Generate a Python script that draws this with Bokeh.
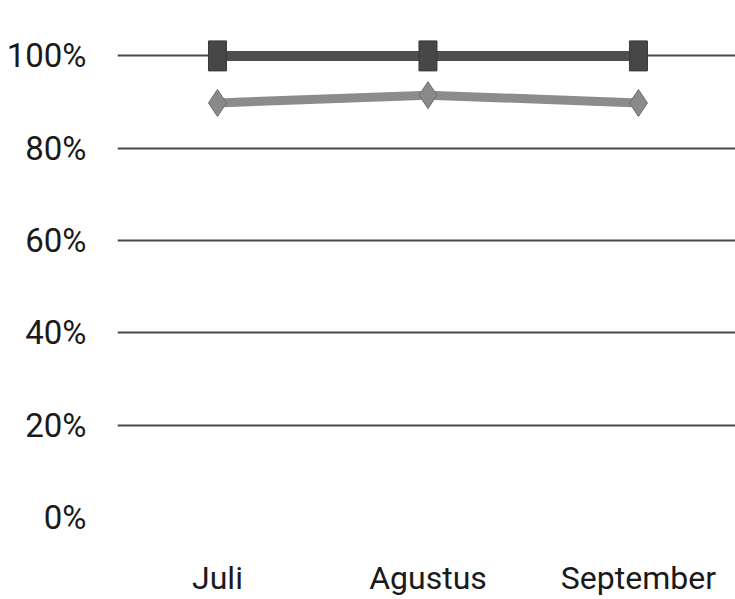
from bokeh.plotting import figure
from bokeh.models import FixedTicker, Range1d
from bokeh.embed import file_html
from bokeh.resources import INLINE

# Monthly percentages for the two series
months = ["Juli", "Agustus", "September"]
series_square = [100, 100, 100]
series_diamond = [89.8, 91.5, 89.8]
y_ticks = [0, 20, 40, 60, 80, 100]
y_tick_labels = ["0%", "20%", "40%", "60%", "80%", "100%"]

x_pos = list(range(len(months)))

FONT = "Roboto"

p = figure(
    width=735, height=599,
    x_range=Range1d(-0.475, 2.461),
    y_range=Range1d(0, 112),
    output_backend="svg",
    toolbar_location=None,
    min_border_left=117, min_border_right=0,
    min_border_top=0, min_border_bottom=77,
)
p.outline_line_color = None
p.background_fill_color = "white"
p.border_fill_color = "white"

# horizontal gridlines at 20..100 only
p.xgrid.visible = False
p.ygrid.ticker = FixedTicker(ticks=y_ticks[1:])
p.ygrid.grid_line_color = "#484848"
p.ygrid.grid_line_width = 2

# y axis: percentage labels
p.yaxis.ticker = FixedTicker(ticks=y_ticks)
p.yaxis.major_label_overrides = {t: l for t, l in zip(y_ticks, y_tick_labels)}
p.yaxis.axis_line_color = None
p.yaxis.major_tick_line_color = None
p.yaxis.minor_tick_line_color = None
p.yaxis.major_label_standoff = 25
p.yaxis.major_label_text_font = FONT
p.yaxis.major_label_text_font_size = "33px"
p.yaxis.major_label_text_color = "#1a1a1a"

# x axis: month names
p.xaxis.ticker = FixedTicker(ticks=x_pos)
p.xaxis.major_label_overrides = {i: m for i, m in enumerate(months)}
p.xaxis.axis_line_color = None
p.xaxis.major_tick_line_color = None
p.xaxis.minor_tick_line_color = None
p.xaxis.major_label_standoff = 35
p.xaxis.major_label_text_font = FONT
p.xaxis.major_label_text_font_size = "32px"
p.xaxis.major_label_text_color = "#1a1a1a"

# square series
p.line(x_pos, series_square, line_color="#4f4f4f", line_width=10)
p.rect(x_pos, series_square, width=18, height=30,
       width_units="screen", height_units="screen",
       fill_color="#474747", line_color="#3a3a3a", line_width=1)

# diamond series
p.line(x_pos, series_diamond, line_color="#8c8c8c", line_width=9)
p.scatter(x_pos, series_diamond, marker="diamond", size=27,
          fill_color="#8a8a8a", line_color="#6e6e6e", line_width=1)

open("out.html", "w").write(file_html(p, INLINE))
